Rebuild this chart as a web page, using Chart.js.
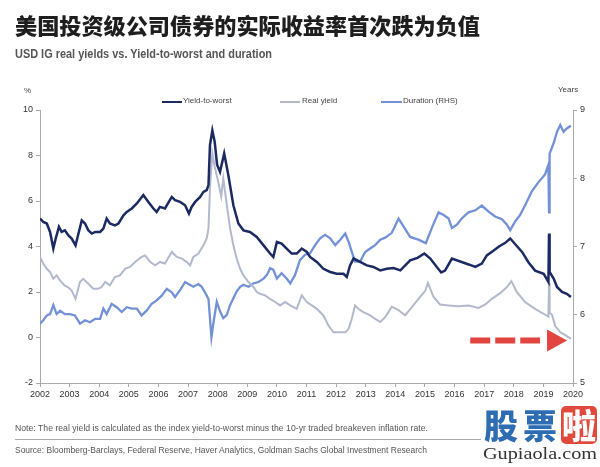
<!DOCTYPE html>
<html>
<head>
<meta charset="utf-8">
<script src="https://cdn.jsdelivr.net/npm/chart.js@4.4.1/dist/chart.umd.min.js"></script>
<style>
body{margin:0;background:#fff;font-family:"Liberation Sans",Arial,sans-serif;}
#page{position:relative;width:600px;height:467px;overflow:hidden;background:#fff;}
#box{position:absolute;left:0;top:0;width:600px;height:467px;}
.t{position:absolute;white-space:nowrap;line-height:1;transform-origin:0 50%;}
#title{left:15px;top:13px;font-family:"Noto Sans CJK SC",sans-serif;font-weight:900;font-size:22px;color:#1e1e1e;}
#sub{left:15px;top:47px;font-family:"Liberation Sans Narrow","Liberation Sans",sans-serif;font-weight:bold;font-size:13px;color:#555;}
.small{font-size:8px;color:#444;}
.leg{position:absolute;height:0;top:101px;}
.foot{font-family:"Liberation Sans Narrow","Liberation Sans",sans-serif;font-size:9px;color:#555;}
#rule{position:absolute;left:15px;top:439px;width:466px;height:1px;background:#aaa;}
.logo{position:absolute;top:406px;width:36px;height:38px;font-family:"Noto Sans CJK SC",sans-serif;font-weight:900;font-size:34px;line-height:38px;text-align:center;color:#2f6db3;}
#la{background:#e04a3c;color:#fff;border-radius:5px;}
#site{left:483px;top:445px;font-family:"Liberation Serif",serif;font-size:17px;color:#333;}
</style>
</head>
<body>
<div id="page">
  <div id="box"><canvas id="chart"></canvas></div>
  <div class="t" id="title" data-w="465">美国投资级公司债券的实际收益率首次跌为负值</div>
  <div class="t" id="sub" data-w="257">USD IG real yields vs. Yield-to-worst and duration</div>
  <div class="t small" style="left:24px;top:87px;">%</div>
  <div class="t small" style="left:558px;top:86px;">Years</div>

  <div class="leg" style="left:162px;width:20px;border-top:2px solid #1b2a63;"></div>
  <div class="t small" style="left:183px;top:97px;">Yield-to-worst</div>
  <div class="leg" style="left:280px;width:20px;border-top:2px solid #b2b9cc;"></div>
  <div class="t small" style="left:302px;top:97px;">Real yield</div>
  <div class="leg" style="left:381px;width:21px;border-top:2px solid #7391d6;"></div>
  <div class="t small" style="left:403px;top:97px;">Duration (RHS)</div>

  <div class="t foot" style="left:15px;top:424px;" data-w="413">Note: The real yield is calculated as the index yield-to-worst minus the 10-yr traded breakeven inflation rate.</div>
  <div id="rule"></div>
  <div class="t foot" style="left:15px;top:446px;" data-w="412">Source: Bloomberg-Barclays, Federal Reserve, Haver Analytics, Goldman Sachs Global Investment Research</div>

  <div class="logo" style="left:483px;">股</div>
  <div class="logo" style="left:522px;">票</div>
  <div class="logo" id="la" style="left:561px;">啦</div>
  <div class="t" id="site" data-w="114">Gupiaola.com</div>
</div>

<script>
// axis ticks
var yearTicks = [2002,2003,2004,2005,2006,2007,2008,2009,2010,2011,2012,2013,2014,2015,2016,2017,2018,2019,2020];
var leftTicks = [-2,0,2,4,6,8,10];
var rightTicks = [5,6,7,8,9];

// Yield-to-worst (%)
var ytwYears = [2002.00,2002.11,2002.23,2002.34,2002.45,2002.53,2002.64,2002.73,2002.84,2002.96,2003.07,2003.20,2003.30,2003.41,2003.52,2003.63,2003.75,2003.86,2004.03,2004.14,2004.25,2004.36,2004.53,2004.65,2004.82,2004.93,2005.10,2005.27,2005.49,2005.66,2005.83,2005.94,2006.05,2006.22,2006.45,2006.56,2006.73,2006.90,2007.03,2007.12,2007.24,2007.41,2007.52,2007.63,2007.69,2007.74,2007.82,2007.90,2007.98,2008.08,2008.22,2008.36,2008.53,2008.70,2008.87,2009.09,2009.32,2009.55,2009.77,2009.88,2010.00,2010.16,2010.33,2010.50,2010.67,2010.84,2011.01,2011.12,2011.35,2011.57,2011.80,2012.02,2012.25,2012.36,2012.47,2012.59,2012.81,2013.04,2013.26,2013.49,2013.71,2013.94,2014.17,2014.50,2014.75,2014.98,2015.18,2015.40,2015.55,2015.68,2015.91,2016.24,2016.50,2016.70,2016.92,2017.09,2017.30,2017.50,2017.70,2017.88,2018.05,2018.28,2018.50,2018.72,2019.01,2019.17,2019.19,2019.21,2019.35,2019.46,2019.63,2019.79,2019.93];
var ytwValues = [5.23,5.08,5.01,4.64,3.91,4.35,4.86,4.64,4.71,4.49,4.35,4.05,4.57,5.15,5.01,4.71,4.57,4.64,4.64,4.79,5.23,5.01,4.93,5.01,5.37,5.52,5.67,5.89,6.26,5.96,5.67,5.52,5.74,5.67,6.18,6.04,5.96,5.81,5.45,5.74,5.96,6.18,6.40,6.48,6.70,8.46,9.10,8.60,7.60,7.28,8.09,7.14,5.81,5.01,4.71,4.64,4.42,4.05,3.69,3.54,4.20,4.13,3.91,3.69,3.69,3.91,3.76,3.54,3.32,3.02,2.88,2.80,2.80,2.66,3.17,3.47,3.32,3.17,3.10,2.95,3.02,3.05,2.95,3.39,3.50,3.69,3.47,3.10,2.86,2.94,3.47,3.32,3.20,3.10,3.25,3.61,3.80,4.00,4.15,4.35,4.10,3.76,3.30,2.94,2.80,2.44,4.57,2.88,2.58,2.22,2.00,1.92,1.78];

// Real yield (%)
var realYears = [2002.00,2002.11,2002.23,2002.34,2002.45,2002.56,2002.68,2002.84,2002.96,2003.07,2003.20,2003.35,2003.46,2003.63,2003.80,2003.97,2004.08,2004.20,2004.36,2004.53,2004.70,2004.87,2005.04,2005.21,2005.43,2005.55,2005.72,2005.89,2006.05,2006.22,2006.45,2006.62,2006.79,2006.96,2007.07,2007.18,2007.35,2007.52,2007.63,2007.69,2007.74,2007.82,2007.90,2008.02,2008.12,2008.19,2008.31,2008.42,2008.53,2008.64,2008.76,2008.87,2009.04,2009.21,2009.32,2009.43,2009.60,2009.77,2009.94,2010.11,2010.28,2010.45,2010.67,2010.84,2011.01,2011.18,2011.35,2011.57,2011.74,2011.91,2012.14,2012.31,2012.42,2012.53,2012.64,2012.75,2012.92,2013.15,2013.32,2013.49,2013.66,2013.88,2014.11,2014.33,2014.56,2014.78,2015.01,2015.10,2015.29,2015.51,2015.80,2016.13,2016.47,2016.81,2017.04,2017.26,2017.54,2017.77,2017.92,2018.10,2018.38,2018.72,2019.06,2019.17,2019.19,2019.21,2019.29,2019.40,2019.57,2019.74,2019.93];
var realValues = [3.54,3.25,3.02,2.88,2.58,2.73,2.50,2.28,2.20,2.06,1.70,2.44,2.58,2.36,2.14,2.14,2.22,2.44,2.29,2.66,2.73,3.02,3.10,3.32,3.54,3.61,3.32,3.17,3.32,3.25,3.76,3.54,3.47,3.32,3.17,3.54,3.69,4.05,4.35,4.79,6.55,8.10,7.50,6.84,6.20,6.99,5.81,4.79,4.05,3.47,3.02,2.73,2.44,2.22,2.00,1.92,1.85,1.70,1.56,1.41,1.56,1.41,1.26,1.85,1.56,1.41,1.26,0.97,0.53,0.23,0.23,0.23,0.38,0.82,1.41,1.26,1.12,0.97,0.82,0.68,0.90,1.35,1.20,0.97,1.34,1.70,2.05,2.40,1.78,1.45,1.41,1.37,1.41,1.30,1.45,1.70,1.95,2.22,2.48,2.00,1.56,1.26,1.00,0.92,2.40,1.10,1.00,0.50,0.23,0.10,-0.06];

// Duration (years, RHS)
var durYears = [2002.00,2002.11,2002.23,2002.34,2002.45,2002.56,2002.68,2002.84,2003.01,2003.18,2003.35,2003.52,2003.69,2003.86,2004.03,2004.14,2004.25,2004.42,2004.59,2004.76,2004.93,2005.10,2005.27,2005.43,2005.60,2005.77,2005.94,2006.11,2006.28,2006.45,2006.56,2006.73,2006.90,2007.01,2007.18,2007.35,2007.46,2007.63,2007.69,2007.79,2007.86,2007.97,2008.08,2008.19,2008.31,2008.42,2008.53,2008.64,2008.76,2008.87,2009.04,2009.21,2009.38,2009.55,2009.66,2009.77,2009.88,2010.00,2010.16,2010.33,2010.45,2010.61,2010.78,2010.95,2011.12,2011.29,2011.46,2011.63,2011.80,2011.97,2012.14,2012.31,2012.42,2012.53,2012.64,2012.81,2012.98,2013.15,2013.32,2013.49,2013.66,2013.88,2014.11,2014.27,2014.50,2014.78,2015.03,2015.23,2015.46,2015.63,2015.80,2015.91,2016.08,2016.24,2016.47,2016.70,2016.92,2017.15,2017.37,2017.60,2017.77,2017.88,2018.05,2018.21,2018.38,2018.61,2018.83,2019.06,2019.17,2019.19,2019.21,2019.35,2019.46,2019.57,2019.68,2019.79,2019.93];
var durValues = [5.87,5.92,5.99,6.01,6.14,6.01,6.06,6.01,6.01,5.99,5.87,5.92,5.89,5.94,5.94,6.09,6.01,6.16,6.11,6.04,6.11,6.09,6.09,5.99,6.06,6.16,6.21,6.28,6.38,6.33,6.26,6.36,6.48,6.45,6.41,6.45,6.41,6.28,6.23,5.67,5.89,6.19,6.05,5.95,6.00,6.14,6.24,6.34,6.41,6.44,6.41,6.46,6.48,6.53,6.58,6.68,6.66,6.53,6.61,6.53,6.46,6.58,6.80,6.88,6.90,7.02,7.12,7.17,7.12,7.02,7.10,7.19,7.07,6.92,6.78,6.78,6.92,6.97,7.02,7.10,7.13,7.20,7.41,7.30,7.14,7.10,7.05,7.27,7.50,7.46,7.41,7.27,7.32,7.41,7.50,7.53,7.60,7.51,7.44,7.40,7.32,7.24,7.37,7.46,7.60,7.81,7.94,8.06,8.20,7.50,8.36,8.52,8.68,8.78,8.68,8.73,8.77];

// red arrow annotation (in data units)
var arrowFrom = 2016.53;
var arrowTo = 2019.80;
var arrowLevel = -0.13;

function punti(xs, ys){
    var out = [];
    for (var i = 0; i < xs.length; i++) {
        out.push({x: xs[i], y: ys[i]});
    }
    return out;
}

var arrowPlugin = {
    id: 'arrow',
    afterDatasetsDraw: function(chart){
        var ctx = chart.ctx;
        var x0 = chart.scales.x.getPixelForValue(arrowFrom);
        var x1 = chart.scales.x.getPixelForValue(arrowTo);
        var yy = chart.scales.y.getPixelForValue(arrowLevel);
        ctx.save();
        ctx.fillStyle = '#e2453f';
        ctx.strokeStyle = '#e2453f';
        ctx.lineWidth = 6;
        ctx.setLineDash([20, 5]);
        ctx.beginPath();
        ctx.moveTo(x0, yy);
        ctx.lineTo(x1 - 27, yy);
        ctx.stroke();
        ctx.setLineDash([]);
        ctx.beginPath();
        ctx.moveTo(x1 - 20, yy - 11);
        ctx.lineTo(x1, yy);
        ctx.lineTo(x1 - 20, yy + 11);
        ctx.closePath();
        ctx.fill();
        ctx.restore();
    }
};

var tickFont = {family: '"Liberation Sans", Arial, sans-serif', size: 9};
var gridOpts = {drawOnChartArea: false, drawTicks: true, tickLength: 4, color: '#aaa'};
var borderOpts = {display: true, color: '#aaa', width: 1};

var ctx = document.getElementById('chart');
var chart = new Chart(ctx, {
    type: 'line',
    data: {
        datasets: [{
            label: 'Yield-to-worst',
            data: punti(ytwYears, ytwValues),
            borderColor: '#1b2a63',
            borderWidth: 2.5,
            yAxisID: 'y'
        }, {
            label: 'Real yield',
            data: punti(realYears, realValues),
            borderColor: '#b2b9cc',
            borderWidth: 2,
            yAxisID: 'y'
        }, {
            label: 'Duration (RHS)',
            data: punti(durYears, durValues),
            borderColor: '#7391d6',
            borderWidth: 2.3,
            yAxisID: 'y1'
        }]
    },
    options: {
        responsive: true,
        maintainAspectRatio: false,
        animation: false,
        layout: {padding: {top: 110, left: 0, right: 0, bottom: 0}},
        elements: {point: {radius: 0}, line: {tension: 0, fill: false}},
        plugins: {legend: {display: false}, tooltip: {enabled: false}},
        scales: {
            x: {
                type: 'linear', min: 2002, max: 2020,
                afterBuildTicks: function(s){ s.ticks = yearTicks.map(function(v){ return {value: v}; }); },
                afterFit: function(s){ s.height = 84; },
                ticks: {font: tickFont, color: '#333', padding: 2, maxRotation: 0, autoSkip: false,
                        callback: function(v){ return String(v); }},
                grid: gridOpts, border: borderOpts
            },
            y: {
                position: 'left', min: -2, max: 10,
                afterBuildTicks: function(s){ s.ticks = leftTicks.map(function(v){ return {value: v}; }); },
                afterFit: function(s){ s.width = 40; },
                ticks: {font: tickFont, color: '#333', padding: 3},
                grid: gridOpts, border: borderOpts
            },
            y1: {
                position: 'right', min: 5, max: 9,
                afterBuildTicks: function(s){ s.ticks = rightTicks.map(function(v){ return {value: v}; }); },
                afterFit: function(s){ s.width = 27; },
                ticks: {font: tickFont, color: '#333', padding: 3},
                grid: gridOpts, border: borderOpts
            }
        }
    },
    plugins: [arrowPlugin]
});

// stretch the condensed texts to the widths seen in the picture
var fit = document.querySelectorAll('[data-w]');
for (var i = 0; i < fit.length; i++) {
    var w = fit[i].getBoundingClientRect().width;
    fit[i].style.transform = 'scaleX(' + (fit[i].dataset.w / w) + ')';
}
</script>
</body>
</html>
